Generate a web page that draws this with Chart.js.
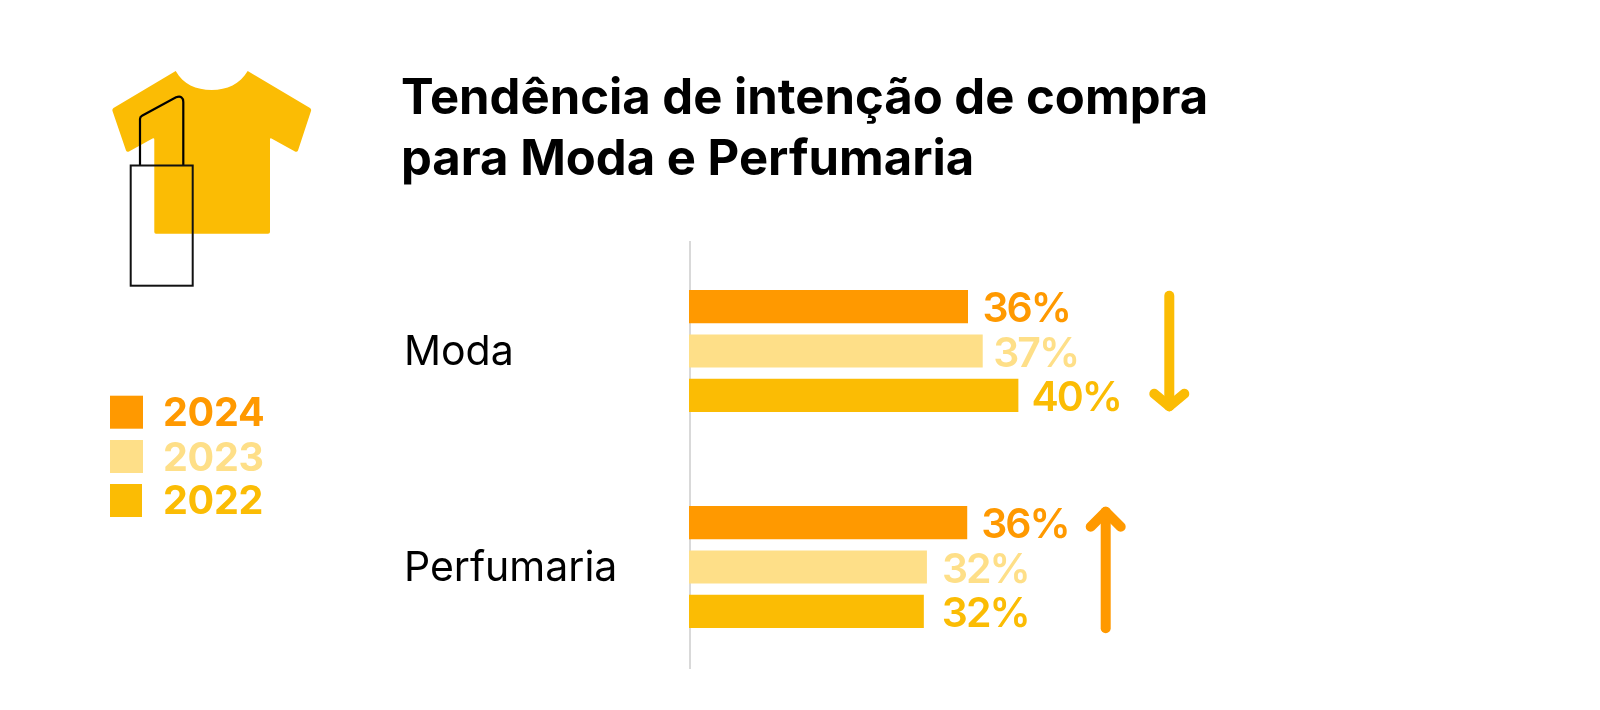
<!DOCTYPE html>
<html lang="pt"><head><meta charset="utf-8">
<style>html,body{margin:0;padding:0;background:#fff;width:1600px;height:710px;overflow:hidden}
#icon{position:absolute;left:0;top:0}canvas{position:absolute;left:0;top:0}</style>
<script src="https://cdn.jsdelivr.net/npm/chart.js@4"></script></head>
<body>
<svg id="icon" width="400" height="300" viewBox="0 0 400 300">
<path d="M175.7 71 C183 84 196 90 211.7 90 C227 90 240 84 247.7 71 L310 108 Q311.5 109 311 111 L298 150.5 Q297 152.5 295 151.5 L271.5 138.5 Q270 137.7 270 139.5 L270 232 Q270 233.7 268 233.7 L156 233.7 Q154.3 233.7 154.3 232 L154.3 139.5 Q154.3 137.7 152.5 138.5 L129 151.5 Q127 152.5 126 150.5 L112.5 111 Q112 109 113.5 108 Z" fill="#FBBC04"/>
<path d="M140 165.5 L140 119 Q140 116.7 142 115.7 L176 97.2 Q183.3 95 183.3 102 L183.3 165.5" fill="none" stroke="#000" stroke-width="2.2"/>
<rect x="130.7" y="165.5" width="62" height="120.2" fill="none" stroke="#111" stroke-width="2"/>
</svg>
<canvas id="c" width="1600" height="710"></canvas>
<script>
const categories = ["Moda", "Perfumaria"];
const years = ["2024", "2023", "2022"];
const barLengths2024 = [36, 35.9];
const barLengths2023 = [37.9, 30.7];
const barLengths2022 = [42.5, 30.3];
const printed2024 = ["36%", "36%"];
const printed2023 = ["37%", "32%"];
const printed2022 = ["40%", "32%"];
const titleLines = ["Tendência de intenção de compra", "para Moda e Perfumaria"];
const ORANGE = "#FF9900", LIGHT = "#FEDF88", YELLOW = "#FBBC04";
const FONT = "Inter";

const ds = (label, data, printed, color) => ({label, data, printed, backgroundColor: color, borderWidth: 0, barPercentage: 0.75, categoryPercentage: 0.615});

const decor = {
  id: "decor",
  afterLayout(chart) { chart.titleBlock.left -= 3; },
  beforeDatasetsDraw(chart) {
    const {ctx, chartArea: a} = chart;
    ctx.save();
    ctx.fillStyle = "#D9D9D9";
    ctx.fillRect(a.left, a.top - 2, 2, 428);
    ctx.restore();
  },
  afterDatasetsDraw(chart) {
    const {ctx, chartArea: a} = chart;
    ctx.save();
    // value labels
    const gaps = [[14.5, 14], [10.5, 15], [13, 18]];
    ctx.font = "600 41px " + FONT;
    ctx.letterSpacing = "-2px";
    ctx.textBaseline = "alphabetic";
    ctx.textAlign = "left";
    chart.data.datasets.forEach((d, i) => {
      const m = chart.getDatasetMeta(i);
      ctx.fillStyle = d.backgroundColor;
      m.data.forEach((el, j) => ctx.fillText(d.printed[j], el.x + gaps[i][j], el.y + 15.5));
    });
    // legend
    const swatchY = [395.7, 440, 484];
    const textY = [426, 470.5, 514];
    ctx.font = "700 39.5px " + FONT;
    ctx.letterSpacing = "-0.3px";
    chart.data.datasets.forEach((d, i) => {
      ctx.fillStyle = d.backgroundColor;
      ctx.fillRect(110, swatchY[i], i === 2 ? 32 : 33, 33);
      ctx.fillText(d.label, 163, textY[i]);
    });
    ctx.letterSpacing = "0px";
    // trend arrows
    const arrow = (x, y0, y1, wing, dy, color) => {
      ctx.strokeStyle = color; ctx.lineWidth = 10; ctx.lineCap = "round"; ctx.lineJoin = "round";
      ctx.beginPath(); ctx.moveTo(x, y0); ctx.lineTo(x, y1); ctx.stroke();
      ctx.beginPath(); ctx.moveTo(x - wing, y1 - dy); ctx.lineTo(x, y1); ctx.lineTo(x + wing, y1 - dy); ctx.stroke();
    };
    const top0 = chart.getDatasetMeta(0).data;
    const bot = chart.getDatasetMeta(2).data;
    arrow(a.left + 480.3, top0[0].y - 11, bot[0].y + 11, 15, 12.5, YELLOW);
    arrow(a.left + 416.7, bot[1].y + 17, top0[1].y - 11, -15, -15, ORANGE);
    ctx.restore();
  }
};

new Chart(document.getElementById("c"), {
  type: "bar",
  data: {
    labels: categories,
    datasets: [
      ds(years[0], barLengths2024, printed2024, ORANGE),
      ds(years[1], barLengths2023, printed2023, LIGHT),
      ds(years[2], barLengths2022, printed2022, YELLOW)
    ]
  },
  options: {
    indexAxis: "y",
    responsive: false,
    animation: false,
    layout: {padding: {left: 404, right: 136, top: 0, bottom: 35}},
    plugins: {
      legend: {display: false},
      tooltip: {enabled: false},
      title: {
        display: true, text: titleLines, align: "start", color: "#000",
        font: {family: FONT, size: 49, weight: "700", lineHeight: 60.6 / 49},
        padding: {top: 69, bottom: 52.8}
      }
    },
    scales: {
      x: {display: false, min: 0, max: 100},
      y: {
        grid: {display: false},
        border: {display: false},
        afterFit(s) { s.width = 285; },
        ticks: {crossAlign: "far", color: "#000", padding: 0, labelOffset: 2, font: {family: FONT, size: 41, weight: "400"}}
      }
    }
  },
  plugins: [decor]
});
</script>
</body></html>
